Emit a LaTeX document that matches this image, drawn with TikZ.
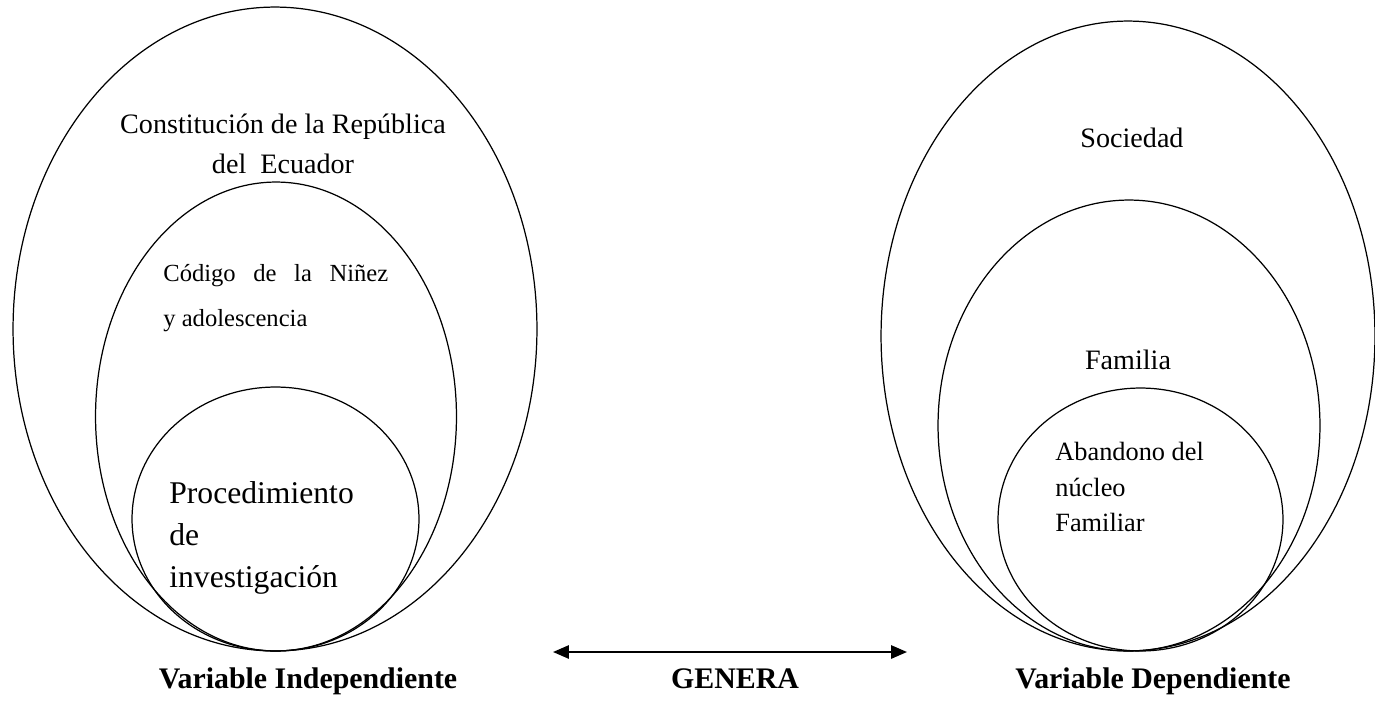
\documentclass[tikz,border=0pt]{standalone}
\usepackage{fontspec}
\setmainfont{Liberation Serif}
\usetikzlibrary{positioning,arrows.meta,shapes.geometric}

\tikzset{
  ring/.style={draw, ellipse, line width=0.7pt, inner sep=0pt},
  txt/.style={inner sep=0pt, font=\rmfamily\fontsize{16}{23}\selectfont},
  varlabel/.style={inner sep=0pt, anchor=base, font=\rmfamily\fontsize{17}{20}\selectfont\bfseries}
}

\begin{document}
\begin{tikzpicture}[x=0.02cm, y=-0.02cm]
  \useasboundingbox (0,0) rectangle (1375,700);

  % Left ellipses
  \node[ring, minimum width=10.48cm, minimum height=12.88cm] (constitucion) at (275,329) {};
  \node[ring, minimum width=7.22cm, minimum height=9.38cm] (codigo) at (276,416.5) {};
  \node[ring, minimum width=5.74cm, minimum height=5.28cm] (procedimiento) at (275.5,519) {};

  % Right ellipses
  \node[ring, minimum width=9.88cm, minimum height=12.6cm] (sociedad) at (1128,336) {};
  \node[ring, minimum width=7.64cm, minimum height=9.02cm] (familia) at (1129,425.5) {};
  \node[ring, minimum width=5.70cm, minimum height=5.26cm] (abandono) at (1140.5,519.5) {};

  % Texts
  \node[txt, align=center] (constitucionText) at (283,144) {Constitución de la República\\del~ Ecuador};
  \node[txt, anchor=west, align=left, font=\rmfamily\fontsize{14}{26}\selectfont] (codigoText) at (163,298)
    {\makebox[4.5cm][s]{Código de la Niñez}\\y adolescencia};
  \node[txt, anchor=west, align=left, font=\rmfamily\fontsize{18}{24}\selectfont] (procedimientoText) at (169,538)
    {Procedimiento\\de\\investigación};
  \node[txt] (sociedadText) at (1132,138) {Sociedad};
  \node[txt] (familiaText) at (1128,360) {Familia};
  \node[txt, anchor=west, align=left, font=\rmfamily\fontsize{15}{20}\selectfont] (abandonoText) at (1055,487)
    {Abandono del\\núcleo\\Familiar};

  % Bottom labels
  \node[varlabel] (varInd) at (308,688) {Variable Independiente};
  \node[varlabel] (genera) at (735,688) {GENERA};
  \node[varlabel] (varDep) at (1153,688) {Variable Dependiente};

  % Arrow
  \coordinate (arrowL) at (553,652);
  \coordinate (arrowR) at (907,652);
  \draw[line width=1.1pt, {Triangle[length=9pt,width=7.5pt]}-{Triangle[length=9pt,width=7.5pt]}] (arrowL) -- (arrowR);
\end{tikzpicture}
\end{document}
